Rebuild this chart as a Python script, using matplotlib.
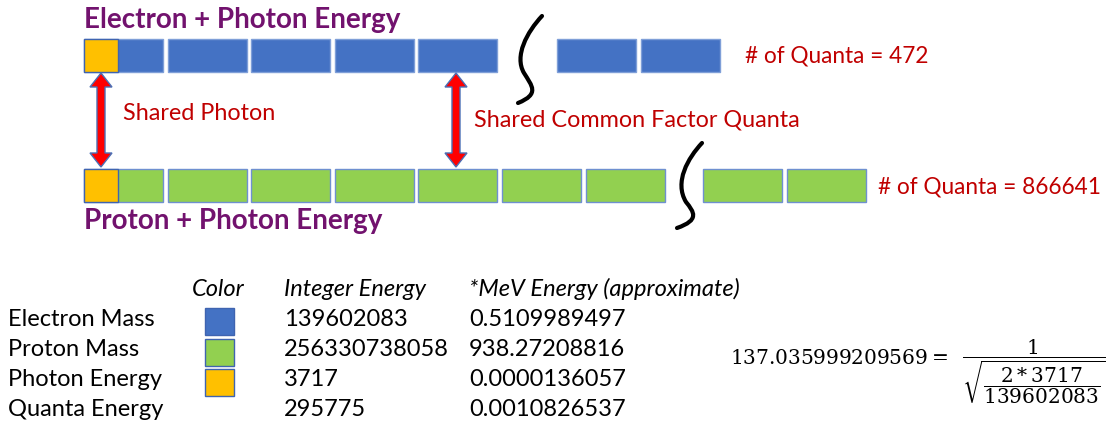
# ==========================================
# QUANTA DIAGRAM — ELECTRON / PROTON ENERGY
# ==========================================

import matplotlib
matplotlib.use("Agg")
import matplotlib.pyplot as plt
import matplotlib.patches as mpatches
from matplotlib.path import Path

plt.rcParams["font.family"] = ["Lato", "DejaVu Sans"]
plt.rcParams["mathtext.fontset"] = "dejavuserif"


# ==========================================
# DATA
# ==========================================

row_titles = ["Electron + Photon Energy", "Proton + Photon Energy"]
quanta_counts = [472, 866641]
blocks_before_break = [5, 7]
blocks_after_break = [2, 2]

names = ["Electron Mass", "Proton Mass", "Photon Energy", "Quanta Energy"]
integer_energy = ["139602083", "256330738058", "3717", "295775"]
mev_energy = ["0.5109989497", "938.27208816", "0.0000136057", "0.0010826537"]
swatch_colors = ["#4472C4", "#92D050", "#FFC000", None]
headers = ["Color", "Integer Energy", "*MeV Energy (approximate)"]

alpha_value = "137.035999209569"
photon_int = 3717
electron_int = 139602083


# ==========================================
# FIGURE
# ==========================================

fig = plt.figure(figsize=(11.08, 4.23), dpi=100)
ax = fig.add_axes([0, 0, 1, 1])
ax.set_xlim(0, 1108)
ax.set_ylim(423, 0)
ax.axis("off")

purple = "#72126E"
red_txt = "#C00000"
fills = [swatch_colors[0], swatch_colors[1]]
edges = ["#7F9FD8", "#6F90D0"]

# block rows
x0 = 84
pitch = 83.6
bw = 79
bh = 33
row_y = [39, 169]
break_x = [557, 703]

for i in range(2):
    y = row_y[i]
    for k in range(blocks_before_break[i]):
        ax.add_patch(mpatches.Rectangle((x0 + k * pitch, y), bw, bh,
                     facecolor=fills[i], edgecolor=edges[i], lw=1))
    for k in range(blocks_after_break[i]):
        ax.add_patch(mpatches.Rectangle((break_x[i] + k * pitch, y), bw, bh,
                     facecolor=fills[i], edgecolor=edges[i], lw=1))
    # shared photon square
    ax.add_patch(mpatches.Rectangle((x0, y), 34, bh,
                 facecolor=swatch_colors[2], edgecolor="#3F64B0", lw=1))

ax.text(745, 56, "# of Quanta = %d" % quanta_counts[0], color=red_txt,
        fontsize=16.3, va="center", ha="left")
ax.text(878, 187, "# of Quanta = %d" % quanta_counts[1], color=red_txt,
        fontsize=16.3, va="center", ha="left")

# titles
ax.text(84, 28, row_titles[0], color=purple, fontsize=20,
        fontweight="bold", va="baseline")
ax.text(84, 229, row_titles[1], color=purple, fontsize=20,
        fontweight="bold", va="baseline")

# squiggles (break marks)
def squiggle(p):
    codes = [Path.MOVETO] + [Path.CURVE4] * 6
    ax.add_patch(mpatches.PathPatch(Path(p, codes), fill=False,
                 lw=3, edgecolor="black", capstyle="round"))

squiggle([(542, 16), (527, 32), (514, 56), (524, 73),
          (532, 86), (540, 94), (518, 103)])
squiggle([(702, 143), (688, 158), (674, 182), (686, 202),
          (694, 212), (700, 220), (677, 228)])

# double arrows
def double_arrow(xc, y1, y2, sw=8, hw=22, hl=14):
    pts = [(xc, y1), (xc + hw / 2, y1 + hl), (xc + sw / 2, y1 + hl),
           (xc + sw / 2, y2 - hl), (xc + hw / 2, y2 - hl), (xc, y2),
           (xc - hw / 2, y2 - hl), (xc - sw / 2, y2 - hl),
           (xc - sw / 2, y1 + hl), (xc - hw / 2, y1 + hl)]
    ax.add_patch(mpatches.Polygon(pts, closed=True, facecolor="#FF0000",
                 edgecolor="#4A6FB5", lw=1))

double_arrow(101, 73, 167)
double_arrow(456, 73, 167)

ax.text(123, 113, "Shared Photon", color=red_txt, fontsize=16.8, va="center")
ax.text(474, 120, "Shared Common Factor Quanta", color=red_txt,
        fontsize=16.8, va="center")


# ==========================================
# TABLE
# ==========================================

header_x = [192, 284, 469]
for hx, h in zip(header_x, headers):
    ax.text(hx, 289, h, fontsize=17, style="italic", va="center")

row_yc = [319, 350, 380, 410]
for j in range(4):
    ax.text(8, row_yc[j], names[j], fontsize=17, va="center")
    ax.text(284, row_yc[j], integer_energy[j], fontsize=17, va="center")
    ax.text(469, row_yc[j], mev_energy[j], fontsize=17, va="center")
    if swatch_colors[j] is not None:
        ax.add_patch(mpatches.Rectangle((205, row_yc[j] - 11), 29, 27,
                     facecolor=swatch_colors[j], edgecolor="#3F64B0", lw=1))


# ==========================================
# FORMULA
# ==========================================

ax.text(730, 357, r"$%s =$" % alpha_value, fontsize=14.5, va="center")
ax.text(1034, 372,
        r"$\dfrac{1}{\sqrt{\dfrac{2 * %d}{%d}}}$" % (photon_int, electron_int),
        fontsize=14.5, ha="center", va="center")

fig.savefig("out.png", dpi=100)
